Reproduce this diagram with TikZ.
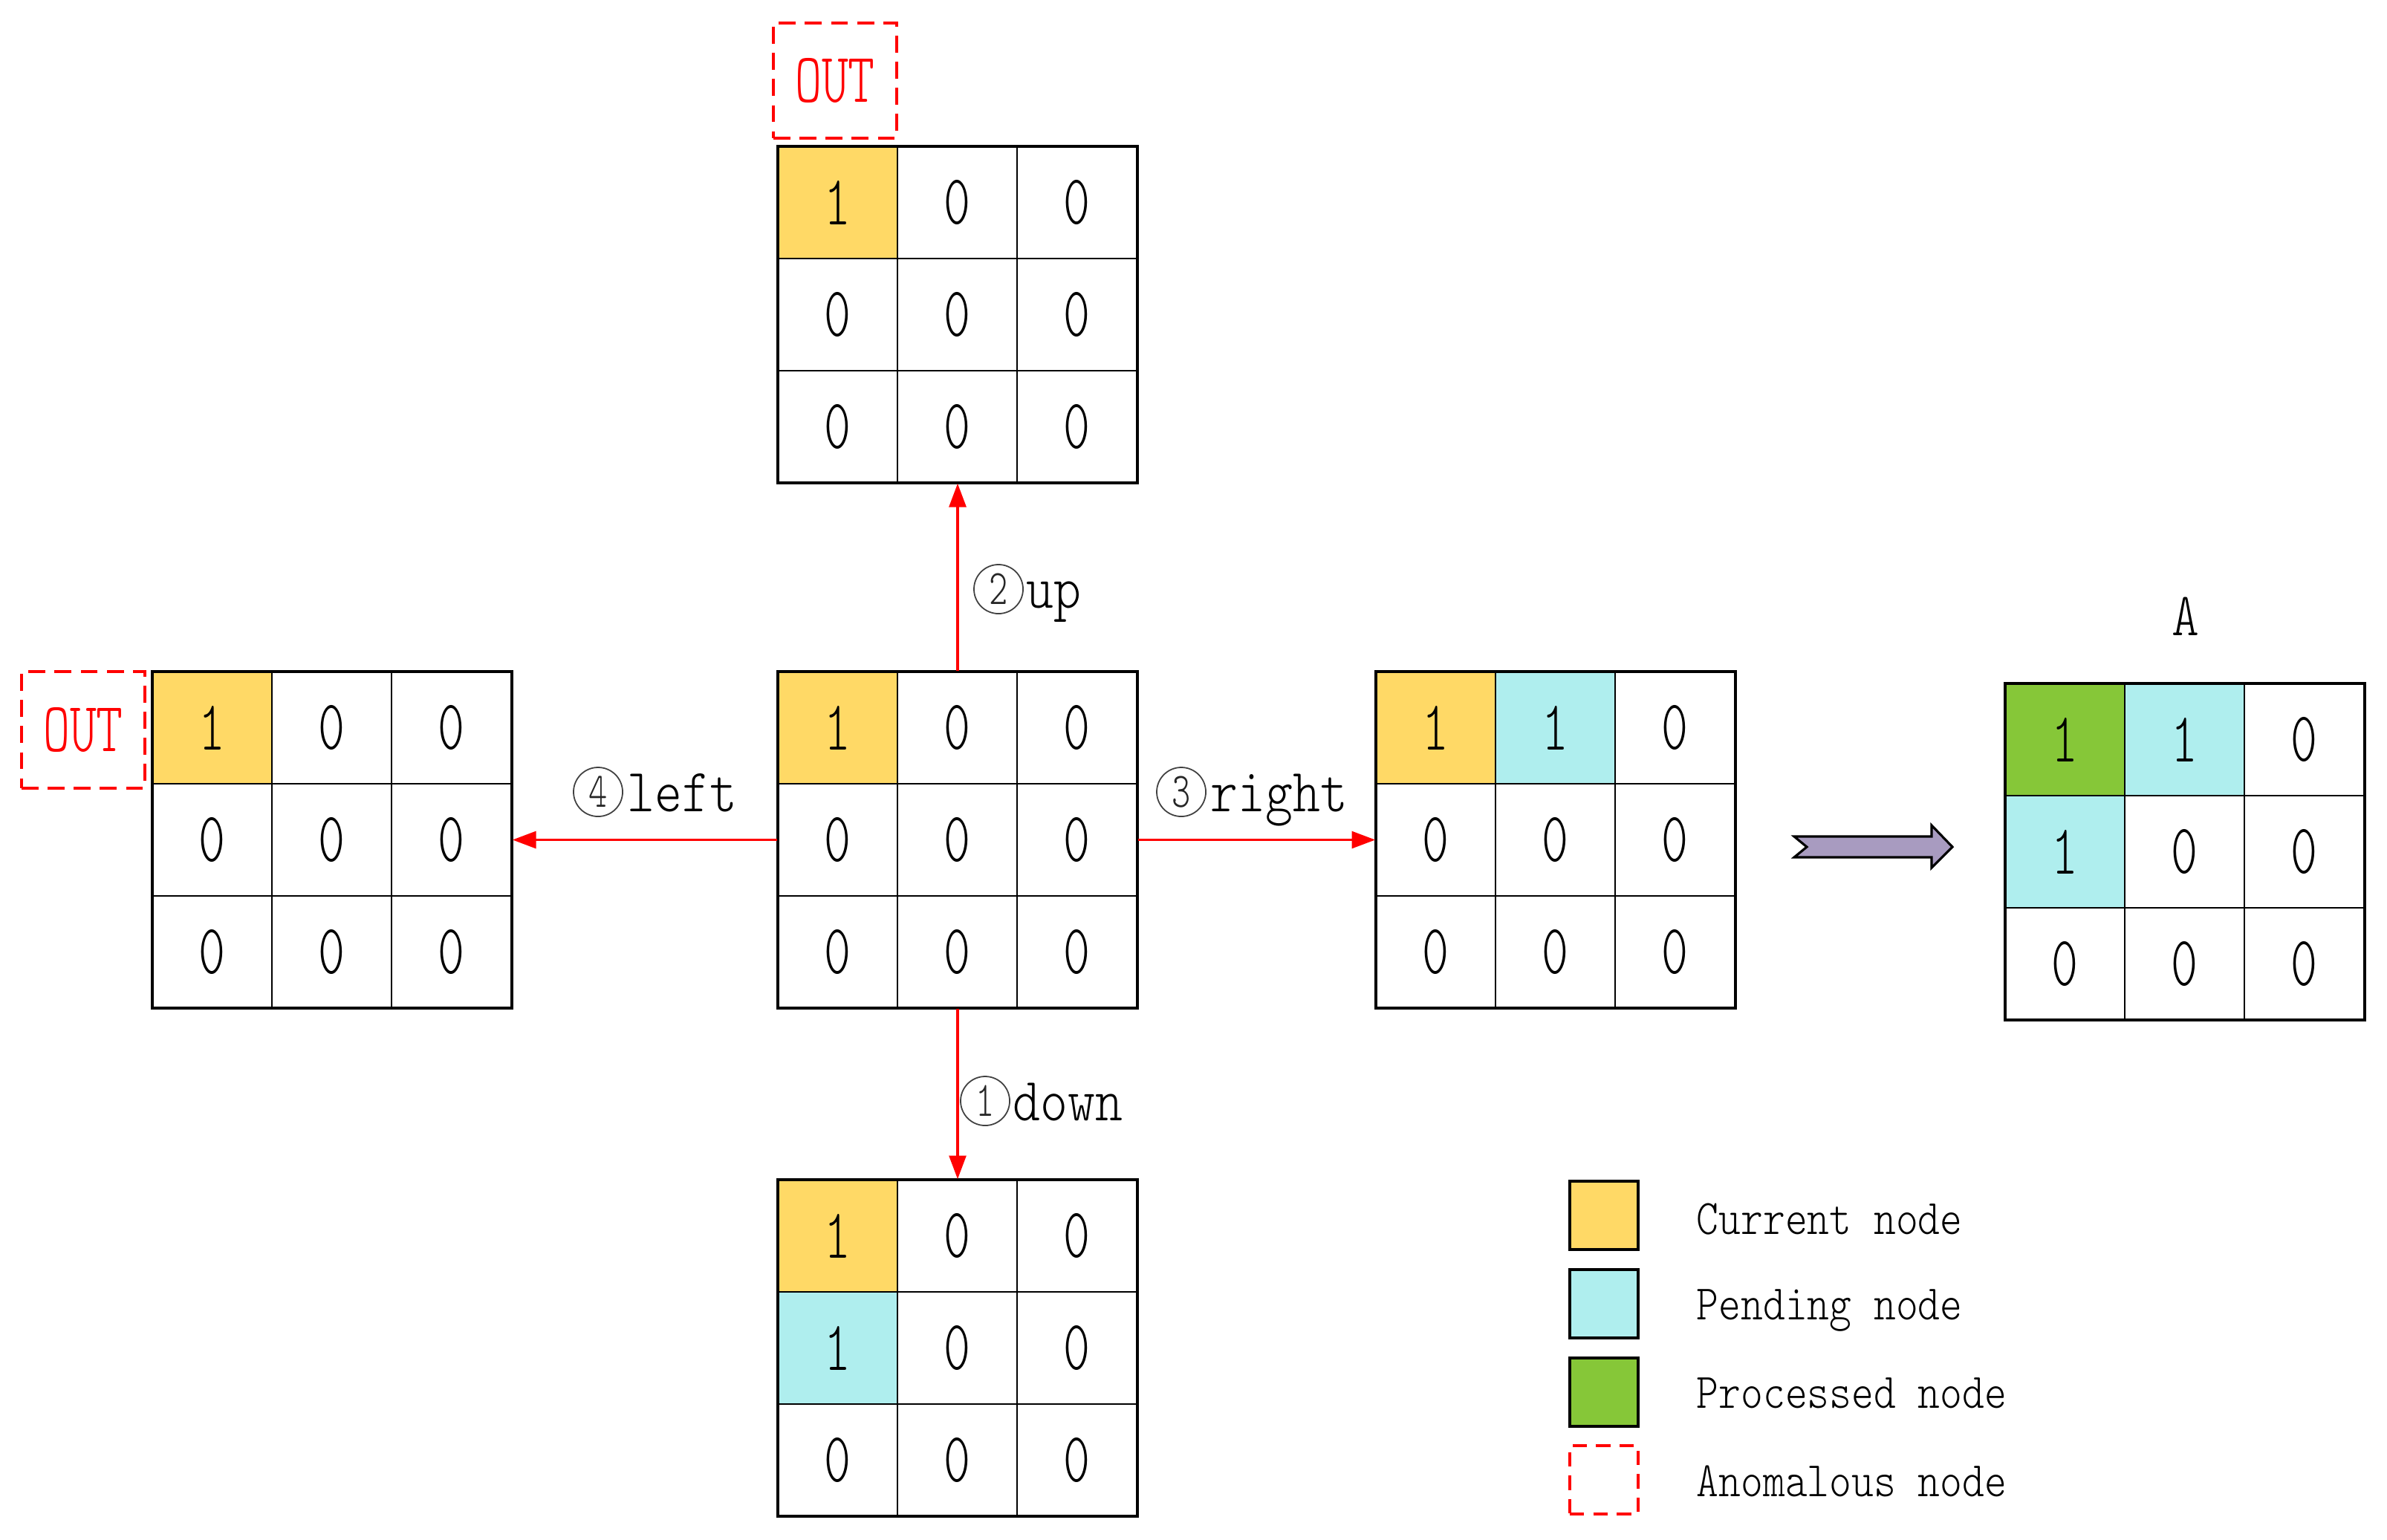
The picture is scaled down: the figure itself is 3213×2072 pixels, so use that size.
\documentclass[tikz,border=0pt]{standalone}
\usepackage{fontspec}
\setmainfont{Liberation Serif}
\newfontfamily\monof[FakeStretch=0.85]{lmmonolt10-regular.otf}
\newfontfamily\digf[FakeStretch=0.72]{lmmonolt10-regular.otf}
\usetikzlibrary{arrows.meta}
\definecolor{curc}{RGB}{255,217,102}
\definecolor{pendc}{RGB}{175,238,238}
\definecolor{procc}{RGB}{134,199,56}
\definecolor{purp}{RGB}{168,155,192}
\definecolor{redc}{RGB}{255,0,0}
\tikzset{
  cell/.style={draw=black, line width=0.7pt, fill=white, minimum width=1.61cm, minimum height=1.51cm, inner sep=0pt, font=\digf\fontsize{27}{27}\selectfont},
  gridbox/.style={draw=none, minimum width=4.84cm, minimum height=4.53cm, inner sep=0pt},
  outer/.style={draw=black, line width=1.1pt},
  redarr/.style={draw=redc, line width=0.9pt, -{Triangle[length=9pt,width=6.5pt]}},
  outbox/.style={draw=redc, line width=1pt, dash pattern=on 6.5pt off 3.5pt, text=redc, inner sep=0pt, font=\digf\fontsize{27}{27}\selectfont},
  lab/.style={anchor=base west, inner sep=0pt, font=\monof\fontsize{23.5}{24}\selectfont},
  cnum/.style={circle, draw=black!75, line width=0.5pt, minimum size=0.66cm, inner sep=0pt, text=black!85, font=\digf\fontsize{19}{19}\selectfont},
  legbox/.style={draw=black, line width=1pt, minimum width=0.92cm, minimum height=0.92cm, inner sep=0pt},
  legtext/.style={anchor=west, inner sep=0pt, font=\monof\fontsize{19}{20}\selectfont},
}
\newcommand\mygrid[4]{%
  \node[gridbox] (#1) at (#2+242,#3+226.5) {};
  \foreach \r in {0,1,2}{\foreach \c in {0,1,2}{
    \node[cell] (#1-\r\c) at (#2+\c*161+80.5,#3+\r*151+75.5) {0};}}
  \foreach \r/\c/\col/\v in {#4}{
    \node[cell,fill=\col] (#1-\r\c) at (#2+\c*161+80.5,#3+\r*151+75.5) {\v};}
  \draw[outer] (#2,#3) rectangle ++(484,453);
}
\begin{document}
\begin{tikzpicture}[x=0.01cm,y=-0.01cm]
\useasboundingbox (0,0) rectangle (3213,2072);
\fill[white] (0,0) rectangle (3213,2072);

% grids
\mygrid{top}{1047}{197}{0/0/curc/1}
\mygrid{cen}{1047}{904}{0/0/curc/1}
\mygrid{left}{205}{904}{0/0/curc/1}
\mygrid{right}{1852}{904}{0/0/curc/1,0/1/pendc/1}
\mygrid{bot}{1047}{1588}{0/0/curc/1,1/0/pendc/1}
\mygrid{res}{2699}{920}{0/0/procc/1,0/1/pendc/1,1/0/pendc/1}

% anomalous boxes
\node[outbox, minimum width=1.66cm, minimum height=1.55cm] (outtop) at (1124,108.5) {OUT};
\node[outbox, minimum width=1.66cm, minimum height=1.57cm] (outleft) at (112,982.5) {OUT};

% arrows
\draw[redarr] (cen.north) -- (top.south);
\draw[redarr] (cen.south) -- (bot.north);
\draw[redarr] (cen.east) -- (right.west);
\draw[redarr] (cen.west) -- (left.east);

% labels
\node[cnum] (cup) at (1344,793) {2};
\node[lab] (lup) at (1381,818) {up};
\node[cnum] (cdown) at (1326,1482) {1};
\node[lab] (ldown) at (1363,1508) {down};
\node[cnum] (cright) at (1590,1066) {3};
\node[lab] (lright) at (1629,1092) {right};
\node[cnum] (cleft) at (805,1066) {4};
\node[lab] (lleft) at (844,1092) {left};
\node[font=\monof\fontsize{23.5}{24}\selectfont, inner sep=0pt] (lA) at (2942,830) {A};

% purple arrow
\draw[fill=purp, line width=0.9pt, line join=miter]
  (2415,1126) -- (2600,1126) -- (2600,1111) -- (2628,1140) -- (2600,1168)
  -- (2600,1154) -- (2415,1154) -- (2432,1140) -- cycle;

% legend
\node[legbox, fill=curc] (lg1) at (2159,1636) {};
\node[legbox, fill=pendc] (lg2) at (2159,1755) {};
\node[legbox, fill=procc] (lg3) at (2159,1874) {};
\node[legbox, draw=redc, line width=1pt, dash pattern=on 5.5pt off 3.5pt] (lg4) at (2159,1992) {};
\node[legtext] (lt1) at (2283,1641) {Current node};
\node[legtext] (lt2) at (2283,1764) {Pending node};
\node[legtext] (lt3) at (2283,1875) {Processed node};
\node[legtext] (lt4) at (2283,1994) {Anomalous node};
\end{tikzpicture}
\end{document}
